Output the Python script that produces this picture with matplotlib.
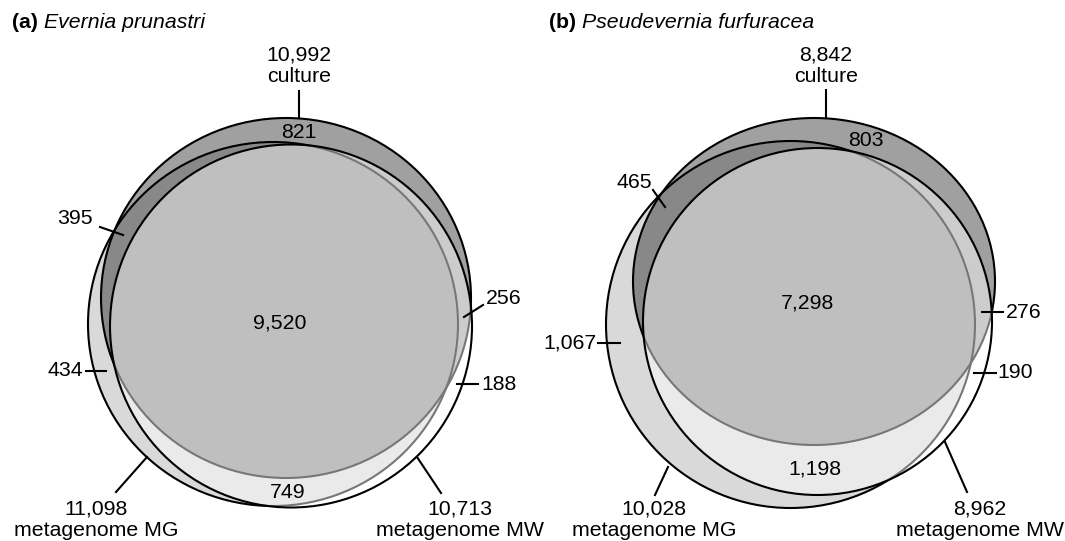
import matplotlib
matplotlib.use("Agg")
import matplotlib.pyplot as plt
from matplotlib.patches import Ellipse

plt.rcParams['font.family'] = ['Liberation Sans', 'DejaVu Sans']

# ---------------- data ----------------
panel_letters = ["(a)", "(b)"]
species = ["Evernia prunastri", "Pseudevernia furfuracea"]
set_names = ["culture", "metagenome MG", "metagenome MW"]
set_totals_a = ["10,992", "11,098", "10,713"]
set_totals_b = ["8,842", "10,028", "8,962"]
# regions: culture only, culture&MG only, all three, MG only, culture&MW only, MW only, MG&MW only
regions_a = ["821", "395", "9,520", "434", "256", "188", "749"]
regions_b = ["803", "465", "7,298", "1,067", "276", "190", "1,198"]

# ---------------- layout (pixel space) ----------------
# ellipses: (cx, cy, width, height) for culture, MG, MW
shapes = [
    [(286, 298, 370, 360), (273, 324, 370, 364), (291, 326, 362, 363)],
    [(814, 281.5, 362, 327), (790.5, 324.5, 369, 367), (817.5, 321.5, 349, 347)],
]
title_pos = [(12, 22), (549, 22)]
# total labels: (x, y_number, y_name), leader line (x0,y0,x1,y1)
top_lab = [(299, 55, 76, (299, 91, 299, 118)), (826, 55, 76, (826, 90, 826, 118))]
mg_lab = [(96, 509, 531, (147, 457, 116, 492)), (654, 509, 531, (668, 467, 655, 495))]
mw_lab = [(460, 509, 531, (417, 457, 441, 493)), (980, 509, 531, (945, 442, 967, 492))]
# region labels: position, optional tick
region_pos = [
    [(299, 133, None),
     (75, 218, (100, 227, 123, 235)),
     (280, 323, None),
     (65, 371, (86, 371, 106, 371)),
     (504, 298, (464, 317, 483, 305)),
     (499, 384, (457, 384, 478, 384)),
     (288, 492, None)],
    [(866, 140, None),
     (634, 183, (653, 190, 665, 207)),
     (808, 303, None),
     (570, 343, (598, 343, 620, 343)),
     (1024, 312, (982, 312, 1003, 312)),
     (1015, 373, (974, 373, 996, 373)),
     (815, 469, None)],
]

FS = 15.3
fig = plt.figure(figsize=(10.65, 5.41), dpi=100)
ax = fig.add_axes([0, 0, 1, 1])
ax.set_xlim(0, 1065)
ax.set_ylim(541, 0)
ax.axis('off')

fills = [(0, 0, 0, 0.373), (0.851, 0.851, 0.851, 1.0), (1, 1, 1, 0.47)]
order = [1, 0, 2]  # MG, culture, MW

totals = [set_totals_a, set_totals_b]
regions = [regions_a, regions_b]

for p in range(2):
    for k in order:
        cx, cy, w, h = shapes[p][k]
        ax.add_patch(Ellipse((cx, cy), w, h, facecolor=fills[k],
                             edgecolor='black', linewidth=1.5, zorder=1 + order.index(k)))
    # title
    tx, ty = title_pos[p]
    t = ax.text(tx, ty, panel_letters[p] + " ", fontsize=FS, fontweight='bold',
                ha='left', va='center')
    fig.canvas.draw()
    bb = t.get_window_extent().transformed(ax.transData.inverted())
    ax.text(bb.x1, ty, species[p], fontsize=FS, fontstyle='italic',
            ha='left', va='center')
    # set labels
    for (x, yn, yl, ln), tot, name in [(top_lab[p], totals[p][0], set_names[0]),
                                       (mg_lab[p], totals[p][1], set_names[1]),
                                       (mw_lab[p], totals[p][2], set_names[2])]:
        ax.text(x, yn, tot, fontsize=FS, ha='center', va='center', zorder=10)
        ax.text(x, yl, name, fontsize=FS, ha='center', va='center', zorder=10)
        ax.plot([ln[0], ln[2]], [ln[1], ln[3]], color='black', lw=1.5, zorder=10)
    # region labels
    for (x, y, tick), lab in zip(region_pos[p], regions[p]):
        ax.text(x, y, lab, fontsize=FS, ha='center', va='center', zorder=10)
        if tick is not None:
            ax.plot([tick[0], tick[2]], [tick[1], tick[3]], color='black', lw=1.5, zorder=10)

fig.savefig("out.png", dpi=100)
